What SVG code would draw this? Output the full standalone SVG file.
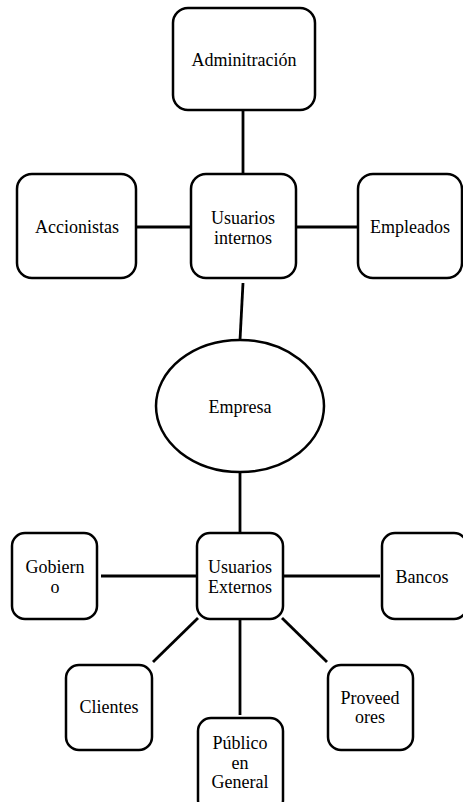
<svg xmlns="http://www.w3.org/2000/svg" width="463" height="802" viewBox="0 0 463 802">
  <style>
    .box { fill: #ffffff; stroke: #000000; stroke-width: 2.5; }
    .link { stroke: #000000; stroke-width: 2.8; fill: none; }
    text { font-family: "Liberation Serif", "Times New Roman", serif; font-size: 18px; fill: #000000; text-anchor: middle; }
  </style>
  <rect width="463" height="802" fill="#ffffff"/>

  <g id="connectors">
    <line class="link" x1="243" y1="110" x2="243" y2="174"/>
    <line class="link" x1="136" y1="227" x2="191" y2="227"/>
    <line class="link" x1="296" y1="227" x2="358" y2="227"/>
    <line class="link" x1="243" y1="283" x2="240" y2="340"/>
    <line class="link" x1="240" y1="472" x2="240" y2="532"/>
    <line class="link" x1="101" y1="576" x2="196" y2="576"/>
    <line class="link" x1="283" y1="576" x2="380" y2="576"/>
    <line class="link" x1="198" y1="618" x2="153" y2="662"/>
    <line class="link" x1="240" y1="620" x2="240" y2="715"/>
    <line class="link" x1="282" y1="618" x2="327" y2="662"/>
  </g>

  <g id="administracion">
    <rect class="box" x="173" y="8" width="142" height="102" rx="15"/>
    <text x="244" y="66">Adminitración</text>
  </g>

  <g id="accionistas">
    <rect class="box" x="17" y="174" width="119" height="104" rx="15"/>
    <text x="77" y="233">Accionistas</text>
  </g>

  <g id="usuarios-internos">
    <rect class="box" x="191" y="174" width="105" height="104" rx="15"/>
    <text x="243" y="224">Usuarios</text>
    <text x="243" y="244">internos</text>
  </g>

  <g id="empleados">
    <rect class="box" x="358" y="174" width="104" height="104" rx="15"/>
    <text x="410" y="233">Empleados</text>
  </g>

  <g id="empresa">
    <ellipse class="box" cx="240" cy="406" rx="84" ry="66"/>
    <text x="240" y="413">Empresa</text>
  </g>

  <g id="gobierno">
    <rect class="box" x="12" y="533" width="85" height="86" rx="13"/>
    <text x="55" y="573">Gobiern</text>
    <text x="55" y="593">o</text>
  </g>

  <g id="usuarios-externos">
    <rect class="box" x="197" y="533" width="86" height="86" rx="13"/>
    <text x="240" y="573">Usuarios</text>
    <text x="240" y="593">Externos</text>
  </g>

  <g id="bancos">
    <rect class="box" x="382" y="533" width="85" height="86" rx="13"/>
    <text x="422" y="583">Bancos</text>
  </g>

  <g id="clientes">
    <rect class="box" x="66" y="665" width="86" height="85" rx="13"/>
    <text x="109" y="713">Clientes</text>
  </g>

  <g id="publico-en-general">
    <rect class="box" x="198" y="718" width="85" height="95" rx="13"/>
    <text x="240" y="749">Público</text>
    <text x="240" y="769">en</text>
    <text x="240" y="788">General</text>
  </g>

  <g id="proveedores">
    <rect class="box" x="328" y="665" width="85" height="85" rx="13"/>
    <text x="370" y="704">Proveed</text>
    <text x="370" y="723">ores</text>
  </g>
</svg>
